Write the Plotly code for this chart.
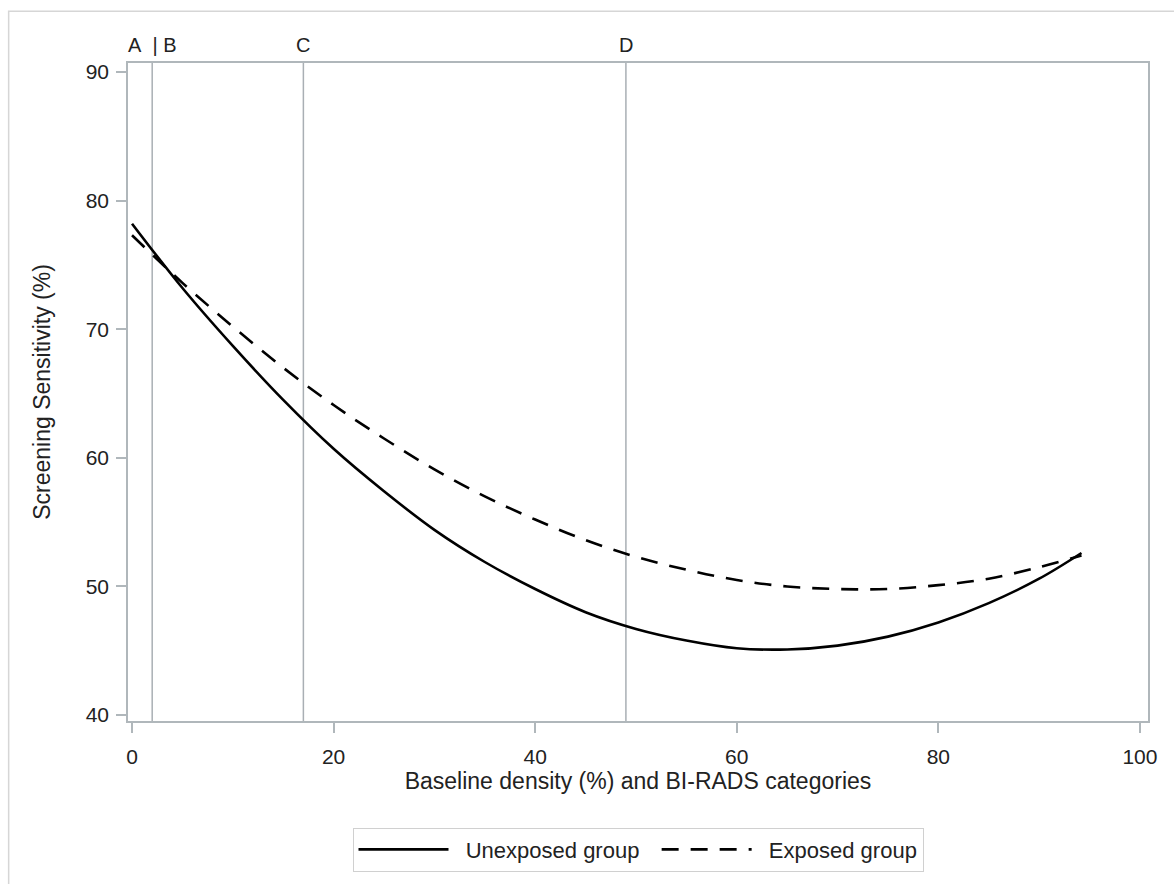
import plotly.graph_objects as go

# ---- data ----
density = [0, 5, 10, 15, 20, 25, 30, 35, 40, 45, 50, 55, 60, 65, 70, 75, 80, 85, 90, 94.2]
unexposed = [78.2, 73.2, 68.7, 64.5, 60.7, 57.4, 54.4, 51.9, 49.8, 48.0, 46.7, 45.8, 45.2, 45.1,
             45.4, 46.1, 47.2, 48.7, 50.6, 52.6]
exposed = [77.3, 73.6, 70.2, 67.0, 64.1, 61.5, 59.1, 57.0, 55.2, 53.6, 52.3, 51.3, 50.5, 50.0,
           49.8, 49.8, 50.1, 50.6, 51.5, 52.4]

birads_lines = [2, 17, 49]
birads_labels = ["A\u00a0\u00a0|\u00a0B", "C", "D"]

x_ticks = [0, 20, 40, 60, 80, 100]
y_ticks = [40, 50, 60, 70, 80, 90]

series_names = ["\u00a0\u00a0Unexposed group\u00a0\u00a0", "\u00a0\u00a0Exposed group"]

FONT = "Liberation Sans, Arial, sans-serif"
FRAME = "#b0b7bb"
REFLINE = "#a9afb4"
TXT = "#222222"

fig = go.Figure()

fig.add_trace(go.Scatter(
    x=density, y=unexposed, mode="lines", name=series_names[0],
    line=dict(color="black", width=2.6, shape="spline", smoothing=1.0),
))
fig.add_trace(go.Scatter(
    x=density, y=exposed, mode="lines", name=series_names[1],
    line=dict(color="black", width=2.6, dash="17px,12px", shape="spline", smoothing=1.0),
))

for xv, lab in zip(birads_lines, birads_labels):
    fig.add_shape(type="line", xref="x", yref="paper", x0=xv, x1=xv, y0=0, y1=1,
                  line=dict(color=REFLINE, width=1.5), layer="below")
    fig.add_annotation(x=xv, xref="x", y=1.027, yref="paper", text=lab, showarrow=False,
                       xanchor="center", yanchor="middle",
                       font=dict(family=FONT, size=20, color=TXT))

# outer light border of the image
fig.add_shape(type="rect", xref="paper", yref="paper", x0=-0.117, x1=1.2, y0=-0.5, y1=1.0788,
              line=dict(color="#d6d6d6", width=1.5), fillcolor="rgba(0,0,0,0)", layer="below")

fig.update_layout(
    width=1174, height=884,
    margin=dict(l=128, r=26, t=63, b=155),
    paper_bgcolor="white", plot_bgcolor="white",
    font=dict(family=FONT, size=21, color=TXT),
    showlegend=True,
    legend=dict(
        orientation="h", x=0.5, xanchor="center", y=-0.162, yanchor="top",
        bordercolor="#d0d0d0", borderwidth=1, bgcolor="white",
        font=dict(family=FONT, size=22, color=TXT),
        itemwidth=90, tracegroupgap=0,
    ),
    xaxis=dict(
        range=[-0.4, 100.8], tickvals=x_ticks, ticks="outside", ticklen=10, tickwidth=1.5,
        tickcolor=FRAME, showline=True, linecolor=FRAME, linewidth=1.5, mirror=True,
        showgrid=False, zeroline=False, tickfont=dict(size=21, color=TXT),
        ticklabelstandoff=6,
        title=dict(text="Baseline density (%) and BI-RADS categories",
                   font=dict(size=23, color=TXT), standoff=2),
    ),
    yaxis=dict(
        range=[39.54, 90.69], tickvals=y_ticks, ticks="outside", ticklen=10, tickwidth=1.5,
        tickcolor=FRAME, showline=True, linecolor=FRAME, linewidth=1.5, mirror=True,
        showgrid=False, zeroline=False, tickfont=dict(size=21, color=TXT),
        ticklabelstandoff=3,
        title=dict(text="Screening Sensitivity (%)", font=dict(size=23, color=TXT), standoff=29),
    ),
)

# remove the default page margin so the 1174x884 figure fills the window exactly
fig.write_html(
    "out.html",
    config={"displayModeBar": False},
    post_script="document.body.style.margin='0';"
                "document.documentElement.style.overflow='hidden';"
                "document.body.style.overflow='hidden';",
)
